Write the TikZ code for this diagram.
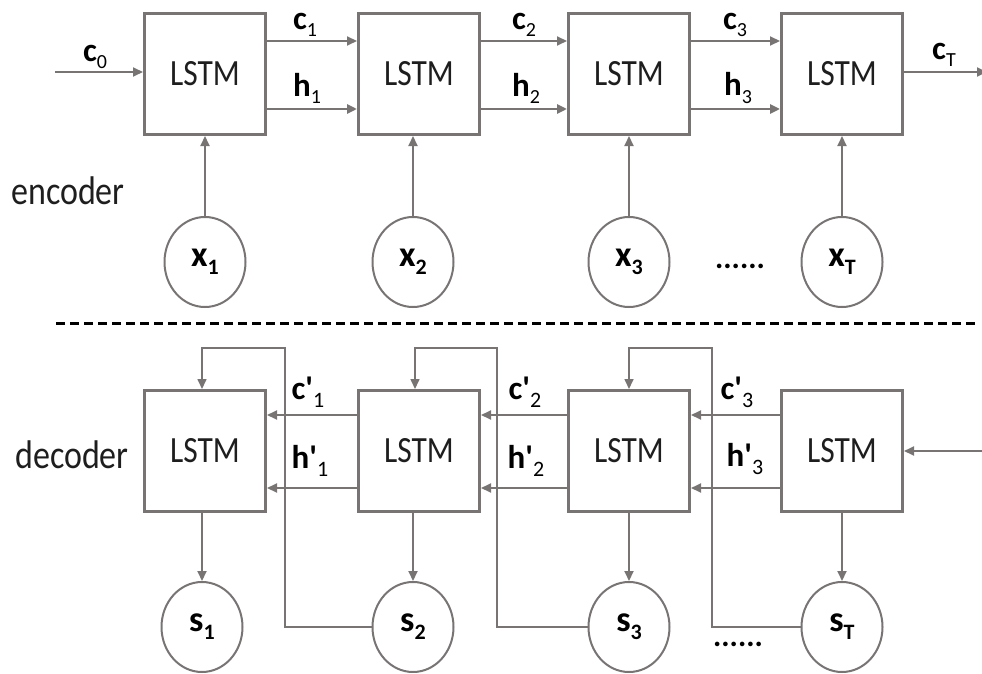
\documentclass[tikz,border=0pt]{standalone}
\usepackage{fontspec}
\setmainfont{Carlito}
\newfontfamily\narrowfont[FakeStretch=0.85]{Carlito}
\usetikzlibrary{arrows.meta,shapes.geometric}
\definecolor{lg}{RGB}{120,116,116}
\definecolor{txt}{RGB}{30,30,30}
\newcommand\lbl[2]{{\bfseries #1}\raisebox{-0.45ex}{\fontsize{20}{20}\selectfont #2}}
\newcommand\plbl[2]{{\bfseries #1\textquotesingle}\raisebox{-0.5ex}{\fontsize{22}{22}\selectfont #2}}
\newcommand\clbl[2]{{\bfseries #1\raisebox{-0.45ex}{\fontsize{22}{22}\selectfont #2}}}
\begin{document}
\begin{tikzpicture}[x=1pt,y=-1pt,
  lstm/.style={draw=lg,line width=3pt,minimum width=121pt,minimum height=121pt,inner sep=0pt,font=\narrowfont\fontsize{37}{40}\selectfont,text=txt},
  io/.style={ellipse,draw=lg,line width=2pt,minimum width=81pt,minimum height=90pt,inner sep=0pt,font=\fontsize{36}{38}\selectfont},
  arr/.style={draw=lg,line width=2pt,-{Triangle[length=10pt,width=9pt]}},
  harr/.style={arr,line width=2.6pt},
  fb/.style={draw=lg,line width=1.6pt},
  lab/.style={font=\fontsize{33}{35}\selectfont,inner sep=0pt},
  side/.style={font=\narrowfont\fontsize{40}{42}\selectfont,text=txt,inner sep=0pt},
  dots/.style={font=\bfseries\fontsize{31}{32}\selectfont,inner sep=0pt,anchor=base}]
\useasboundingbox (0,0) rectangle (982,674);

% encoder
\node[lstm] (e1) at (205,74) {LSTM};
\node[lstm] (e2) at (419,74) {LSTM};
\node[lstm] (e3) at (629,74) {LSTM};
\node[lstm] (e4) at (842,74) {LSTM};
\node[io] (x1) at (205,262) {\clbl{x}{1}};
\node[io] (x2) at (413,262) {\clbl{x}{2}};
\node[io] (x3) at (629,262) {\clbl{x}{3}};
\node[io] (xT) at (842,262) {\clbl{x}{T}};
\node[dots] (edots) at (740,268) {......};
\node[side] (enc) at (68,191) {encoder};

\coordinate (c0s) at (55,72);
\draw[arr] (c0s) -- (c0s -| e1.west);
\node[lab] (lc0) at (95,57) {\lbl{c}{0}};
\draw[arr] ([yshift=33pt]e1.east) -- ([yshift=33pt]e2.west);
\draw[arr] ([yshift=33pt]e2.east) -- ([yshift=33pt]e3.west);
\draw[arr] ([yshift=33pt]e3.east) -- ([yshift=33pt]e4.west);
\draw[harr] ([yshift=-35pt]e1.east) -- ([yshift=-35pt]e2.west);
\draw[harr] ([yshift=-35pt]e2.east) -- ([yshift=-35pt]e3.west);
\draw[harr] ([yshift=-35pt]e3.east) -- ([yshift=-35pt]e4.west);
\node[lab] (lc1) at (305,25) {\lbl{c}{1}};
\node[lab] (lh1) at (307,88) {\lbl{h}{1}};
\node[lab] (lc2) at (524,25) {\lbl{c}{2}};
\node[lab] (lh2) at (526,88) {\lbl{h}{2}};
\node[lab] (lc3) at (735,25) {\lbl{c}{3}};
\node[lab] (lh3) at (738,88) {\lbl{h}{3}};
\coordinate (cTe) at (987,72);
\draw[arr] (cTe -| e4.east) -- (cTe);
\node[lab] (lcT) at (944,55) {\lbl{c}{T}};

\draw[arr] (x1.north) -- (x1.north |- e1.south);
\draw[arr] (x2.north) -- (x2.north |- e2.south);
\draw[arr] (x3.north) -- (x3.north |- e3.south);
\draw[arr] (xT.north) -- (xT.north |- e4.south);

% separator
\coordinate (sepl) at (56,323);
\coordinate (sepr) at (976,323);
\draw[black,line width=3pt,dash pattern=on 9pt off 5pt] (sepl) -- (sepr);

% decoder
\node[lstm] (d1) at (205,451) {LSTM};
\node[lstm] (d2) at (419,451) {LSTM};
\node[lstm] (d3) at (629,451) {LSTM};
\node[lstm] (d4) at (842,451) {LSTM};
\node[io] (s1) at (202,627) {\clbl{s}{1}};
\node[io] (s2) at (413,627) {\clbl{s}{2}};
\node[io] (s3) at (629,627) {\clbl{s}{3}};
\node[io] (sT) at (842,627) {\clbl{s}{T}};
\node[dots] (ddots) at (738,646) {......};
\node[side] (dec) at (72,455) {decoder};

\coordinate (din) at (987,451);
\draw[arr] (din) -- (d4.east);
\draw[arr] ([yshift=36pt]d2.west) -- ([yshift=36pt]d1.east);
\draw[arr] ([yshift=36pt]d3.west) -- ([yshift=36pt]d2.east);
\draw[arr] ([yshift=36pt]d4.west) -- ([yshift=36pt]d3.east);
\draw[arr] ([yshift=-37pt]d2.west) -- ([yshift=-37pt]d1.east);
\draw[arr] ([yshift=-37pt]d3.west) -- ([yshift=-37pt]d2.east);
\draw[arr] ([yshift=-37pt]d4.west) -- ([yshift=-37pt]d3.east);
\node[lab] (lcp1) at (308,392) {\plbl{c}{1}};
\node[lab] (lhp1) at (310,461) {\plbl{h}{1}};
\node[lab] (lcp2) at (525,392) {\plbl{c}{2}};
\node[lab] (lhp2) at (526,461) {\plbl{h}{2}};
\node[lab] (lcp3) at (737,392) {\plbl{c}{3}};
\node[lab] (lhp3) at (745,459) {\plbl{h}{3}};

\draw[arr] (s1.north |- d1.south) -- (s1.north);
\draw[arr] (s2.north |- d2.south) -- (s2.north);
\draw[arr] (s3.north |- d3.south) -- (s3.north);
\draw[arr] (sT.north |- d4.south) -- (sT.north);

% feedback
\coordinate (f1) at (285,348);
\coordinate (f2) at (497,348);
\coordinate (f3) at (712,348);
\draw[fb,-{Triangle[length=10pt,width=9pt]}] (s2.west) -| (f1) -| ([xshift=-3pt]d1.north);
\draw[fb,-{Triangle[length=10pt,width=9pt]}] (s3.west) -| (f2) -| ([xshift=-4pt]d2.north);
\draw[fb,-{Triangle[length=10pt,width=9pt]}] (sT.west) -| (f3) -| (d3.north);
\end{tikzpicture}
\end{document}
